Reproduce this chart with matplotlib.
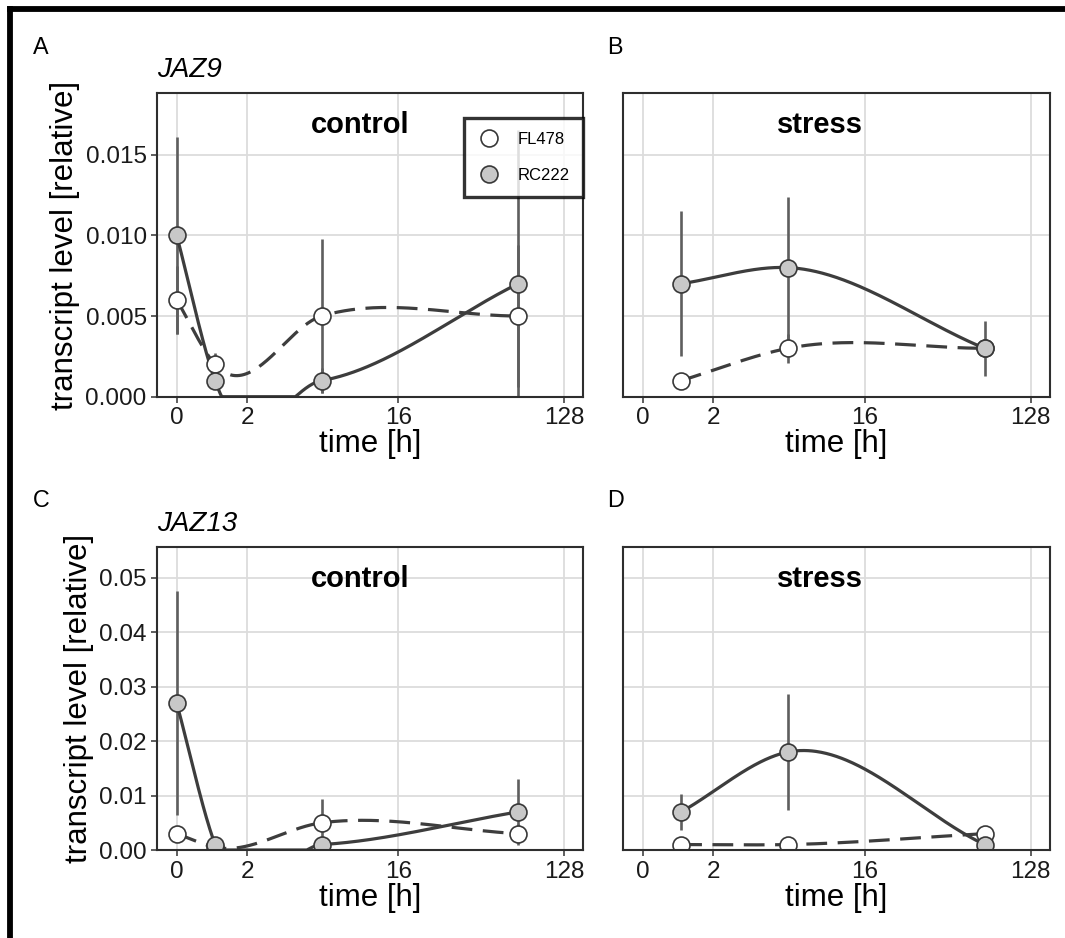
import numpy as np
import matplotlib
matplotlib.use("Agg")
import matplotlib.pyplot as plt
from matplotlib.lines import Line2D

plt.rcParams["font.family"] = ["Liberation Sans", "DejaVu Sans"]

# =========================================================
# DATA  (mean transcript level and error, per line)
# =========================================================
TIME_CONTROL = [0, 1, 6, 72]
TIME_STRESS = [1, 6, 72]

JAZ9_CTRL_FL = [0.006, 0.002, 0.005, 0.005]
JAZ9_CTRL_FL_ERR = [0.0021, 0.0007, 0.0048, 0.0044]
JAZ9_CTRL_RC = [0.010, 0.001, 0.001, 0.007]
JAZ9_CTRL_RC_ERR = [0.0061, 0.0005, 0.0008, 0.0095]

JAZ9_STR_FL = [0.001, 0.003, 0.003]
JAZ9_STR_FL_ERR = [0.0003, 0.0009, 0.0005]
JAZ9_STR_RC = [0.007, 0.008, 0.003]
JAZ9_STR_RC_ERR = [0.0045, 0.0044, 0.0017]

JAZ13_CTRL_FL = [0.003, 0.0005, 0.005, 0.003]
JAZ13_CTRL_FL_ERR = [0.001, 0.0003, 0.0043, 0.0018]
JAZ13_CTRL_RC = [0.027, 0.001, 0.001, 0.007]
JAZ13_CTRL_RC_ERR = [0.0205, 0.0005, 0.0005, 0.006]

JAZ13_STR_FL = [0.001, 0.001, 0.003]
JAZ13_STR_FL_ERR = [0.0003, 0.0003, 0.0006]
JAZ13_STR_RC = [0.007, 0.018, 0.001]
JAZ13_STR_RC_ERR = [0.0033, 0.0106, 0.0005]

X_TICKS = [0, 2, 16, 128]
JAZ9_Y_TICKS = [0.0, 0.005, 0.010, 0.015]
JAZ9_Y_LABELS = ["0.000", "0.005", "0.010", "0.015"]
JAZ9_Y_MAX = 0.0188
JAZ13_Y_TICKS = [0.0, 0.01, 0.02, 0.03, 0.04, 0.05]
JAZ13_Y_LABELS = ["0.00", "0.01", "0.02", "0.03", "0.04", "0.05"]
JAZ13_Y_MAX = 0.0556

# =========================================================
# STYLE
# =========================================================
W, H = 1065, 938
LINE_COL = "#3d3d3d"
ERR_COL = "#5e5e5e"
EDGE_COL = "#383838"
RC_FILL = "#c8c8c8"
GRID_COL = "#dcdcdc"
MS = 12.2
X_LIM_U = (-0.35, 7.35)


# pseudo-log (base 2) time axis
def fwd(t):
    return np.arcsinh(np.asarray(t, float) / 2.0) / np.log(2)


def inv(u):
    return 2.0 * np.sinh(np.asarray(u, float) * np.log(2))


def smooth_curve(x, y, n=300):
    """cubic hermite through the means, computed on the transformed axis"""
    u = fwd(x)
    y = np.asarray(y, float)
    h = np.diff(u)
    d = np.diff(y) / h
    m = np.empty_like(y)
    m[0] = d[0]
    m[-1] = d[-1]
    for i in range(1, len(y) - 1):
        m[i] = (h[i] * d[i - 1] + h[i - 1] * d[i]) / (h[i - 1] + h[i])
    uu = np.linspace(u[0], u[-1], n)
    k = np.clip(np.searchsorted(u, uu, side="right") - 1, 0, len(h) - 1)
    s = (uu - u[k]) / h[k]
    h00 = 2 * s**3 - 3 * s**2 + 1
    h10 = s**3 - 2 * s**2 + s
    h01 = -2 * s**3 + 3 * s**2
    h11 = s**3 - s**2
    yy = h00 * y[k] + h10 * h[k] * m[k] + h01 * y[k + 1] + h11 * h[k] * m[k + 1]
    # squish undershoot onto the axis floor
    return inv(uu), np.clip(yy, 0, None)


def px_axes(fig, left, top, right, bottom):
    return fig.add_axes([left / W, 1 - bottom / H, (right - left) / W, (bottom - top) / H])


def draw_panel(ax, t, fl, fl_err, rc, rc_err, ymax, title, title_x):
    ax.set_xscale("function", functions=(fwd, inv))
    ax.set_xlim(inv(X_LIM_U[0]), inv(X_LIM_U[1]))
    ax.set_ylim(0, ymax)

    ax.errorbar(t, fl, yerr=fl_err, fmt="none", ecolor=ERR_COL, elinewidth=1.9,
                capsize=0, zorder=2)
    ax.errorbar(t, rc, yerr=rc_err, fmt="none", ecolor=ERR_COL, elinewidth=1.9,
                capsize=0, zorder=2)

    xs, ys = smooth_curve(t, fl)
    ax.plot(xs, ys, color=LINE_COL, lw=2.3, ls=(0, (6.5, 3.3)), zorder=3)
    xs, ys = smooth_curve(t, rc)
    ax.plot(xs, ys, color=LINE_COL, lw=2.3, ls="-", zorder=3)

    ax.plot(t, fl, "o", ms=MS, mfc="white", mec=EDGE_COL, mew=1.2, zorder=4)
    ax.plot(t, rc, "o", ms=MS, mfc=RC_FILL, mec=EDGE_COL, mew=1.2, zorder=5)

    ax.set_xticks(X_TICKS)
    ax.set_xticklabels([str(v) for v in X_TICKS])
    ax.xaxis.set_minor_locator(matplotlib.ticker.NullLocator())
    ax.grid(True, color=GRID_COL, lw=1.3, zorder=0)
    ax.set_axisbelow(True)
    for sp in ax.spines.values():
        sp.set_color("#2e2e2e")
        sp.set_linewidth(1.5)
        sp.set_zorder(6)
    ax.tick_params(axis="both", labelsize=17.5, color="#333333", width=1.1,
                   length=4.3, pad=3.3, labelcolor="#1a1a1a")
    ax.set_xlabel("time [h]", fontsize=22.5, labelpad=0)
    ax.text(title_x, 0.870, title, transform=ax.transAxes, ha="center",
            va="baseline", fontsize=21, fontweight="bold")


fig = plt.figure(figsize=(W / 100, H / 100), dpi=100)

axA = px_axes(fig, 157.3, 93.3, 583.3, 396.7)
axB = px_axes(fig, 623.3, 93.3, 1050.0, 396.7)
axC = px_axes(fig, 157.3, 547.3, 583.3, 850.0)
axD = px_axes(fig, 623.3, 547.3, 1050.0, 850.0)

draw_panel(axA, TIME_CONTROL, JAZ9_CTRL_FL, JAZ9_CTRL_FL_ERR, JAZ9_CTRL_RC,
           JAZ9_CTRL_RC_ERR, JAZ9_Y_MAX, "control", 0.476)
draw_panel(axB, TIME_STRESS, JAZ9_STR_FL, JAZ9_STR_FL_ERR, JAZ9_STR_RC,
           JAZ9_STR_RC_ERR, JAZ9_Y_MAX, "stress", 0.46)
draw_panel(axC, TIME_CONTROL, JAZ13_CTRL_FL, JAZ13_CTRL_FL_ERR, JAZ13_CTRL_RC,
           JAZ13_CTRL_RC_ERR, JAZ13_Y_MAX, "control", 0.476)
draw_panel(axD, TIME_STRESS, JAZ13_STR_FL, JAZ13_STR_FL_ERR, JAZ13_STR_RC,
           JAZ13_STR_RC_ERR, JAZ13_Y_MAX, "stress", 0.46)

for ax, ticks, labels in [(axA, JAZ9_Y_TICKS, JAZ9_Y_LABELS), (axB, JAZ9_Y_TICKS, JAZ9_Y_LABELS),
                          (axC, JAZ13_Y_TICKS, JAZ13_Y_LABELS), (axD, JAZ13_Y_TICKS, JAZ13_Y_LABELS)]:
    ax.set_yticks(ticks)
    ax.set_yticklabels(labels)
for ax in (axB, axD):
    ax.tick_params(axis="y", left=False, labelleft=False)

# row y-axis titles
for ax in (axA, axC):
    ax.set_ylabel("transcript level [relative]", fontsize=22.5, labelpad=4)

# legend inside panel A
handles = [
    Line2D([], [], ls="none", marker="o", ms=MS, mfc="white", mec=EDGE_COL, mew=1.2),
    Line2D([], [], ls="none", marker="o", ms=MS, mfc=RC_FILL, mec=EDGE_COL, mew=1.2),
]
leg = axA.legend(handles, ["FL478", "RC222"], loc="upper right",
                 bbox_to_anchor=(1.0, 0.918), borderaxespad=0, fontsize=12,
                 frameon=True, fancybox=False, borderpad=0.8, labelspacing=1.3,
                 handletextpad=1.0, handlelength=1.45)
leg.get_frame().set_edgecolor("black")
leg.get_frame().set_linewidth(2.4)
leg.set_zorder(10)

# panel letters and gene names
fig.text(33 / W, 1 - 54 / H, "A", fontsize=16.8, va="baseline")
fig.text(607 / W, 1 - 54 / H, "B", fontsize=16.8, va="baseline")
fig.text(33 / W, 1 - 507 / H, "C", fontsize=16.8, va="baseline")
fig.text(607 / W, 1 - 507 / H, "D", fontsize=16.8, va="baseline")
fig.text(157 / W, 1 - 77 / H, "JAZ9", fontsize=20, style="italic", va="baseline")
fig.text(157 / W, 1 - 531 / H, "JAZ13", fontsize=20, style="italic", va="baseline")

# outer frame (top and left edges)
fig.add_artist(Line2D([9.5 / W, 9.5 / W], [0, 1 - 9.5 / H], color="black", lw=4.2,
                      solid_capstyle="projecting"))
fig.add_artist(Line2D([9.5 / W, 1], [1 - 9.5 / H, 1 - 9.5 / H], color="black", lw=4.2,
                      solid_capstyle="projecting"))

fig.savefig("out.png", dpi=100)
